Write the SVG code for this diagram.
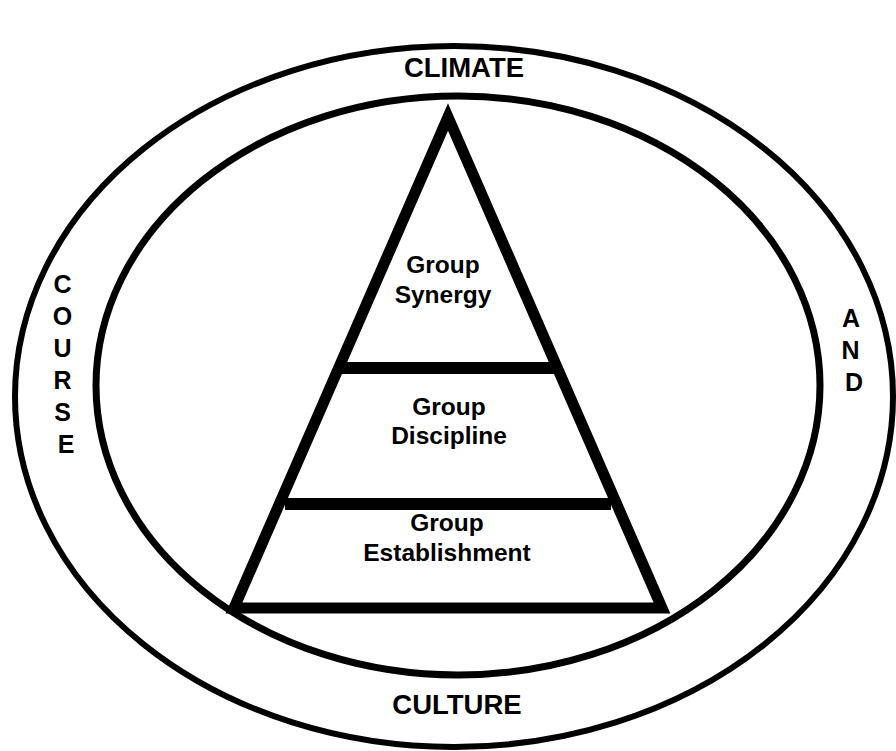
<svg xmlns="http://www.w3.org/2000/svg" width="896" height="751" viewBox="0 0 896 751">
  <style>
    .ring { fill: none; stroke: #000; }
    .pyr { fill: none; stroke: #000; stroke-width: 11; stroke-linejoin: miter; stroke-miterlimit: 10; }
    .bar { stroke: #000; stroke-width: 12; }
    text { font-family: "Liberation Sans", Arial, Helvetica, sans-serif; font-weight: bold; fill: #000; text-anchor: middle; }
    .big { font-size: 27.5px; }
    .side { font-size: 25px; }
    .lbl { font-size: 24.5px; }
  </style>
  <rect width="896" height="751" fill="#fff"/>

  <!-- outer ring: climate and culture -->
  <g id="outer-ring">
    <ellipse class="ring" cx="454" cy="396.5" rx="439" ry="350.5" stroke-width="6"/>
    <text class="big" x="464" y="77">CLIMATE</text>
    <text class="big" x="457" y="714">CULTURE</text>
    <text class="side" x="66">
      <tspan x="66" y="293">C</tspan>
      <tspan x="66" y="325">O</tspan>
      <tspan x="66" y="357">U</tspan>
      <tspan x="66" y="389">R</tspan>
      <tspan x="66" y="421">S</tspan>
      <tspan x="66" y="453">E</tspan>
    </text>
    <text class="side" x="854">
      <tspan x="854" y="327">A</tspan>
      <tspan x="854" y="359">N</tspan>
      <tspan x="854" y="391">D</tspan>
    </text>
  </g>

  <!-- inner ring -->
  <g id="inner-ring">
    <ellipse class="ring" cx="458" cy="385.5" rx="362" ry="289.5" stroke-width="7"/>
  </g>

  <!-- pyramid outline -->
  <g id="pyramid">
    <path class="pyr" d="M448 117 L234 608 L662 608 Z"/>
  </g>

  <!-- tiers -->
  <g id="tier-synergy">
    <text class="lbl" x="443" y="273">Group</text>
    <text class="lbl" x="443" y="303">Synergy</text>
  </g>
  <g id="divider-upper">
    <line class="bar" x1="341" y1="368" x2="556" y2="368"/>
  </g>
  <g id="tier-discipline">
    <text class="lbl" x="449" y="415">Group</text>
    <text class="lbl" x="449" y="444">Discipline</text>
  </g>
  <g id="divider-lower">
    <line class="bar" x1="285" y1="504" x2="611" y2="504"/>
  </g>
  <g id="tier-establishment">
    <text class="lbl" x="447" y="531">Group</text>
    <text class="lbl" x="447" y="561">Establishment</text>
  </g>
</svg>
